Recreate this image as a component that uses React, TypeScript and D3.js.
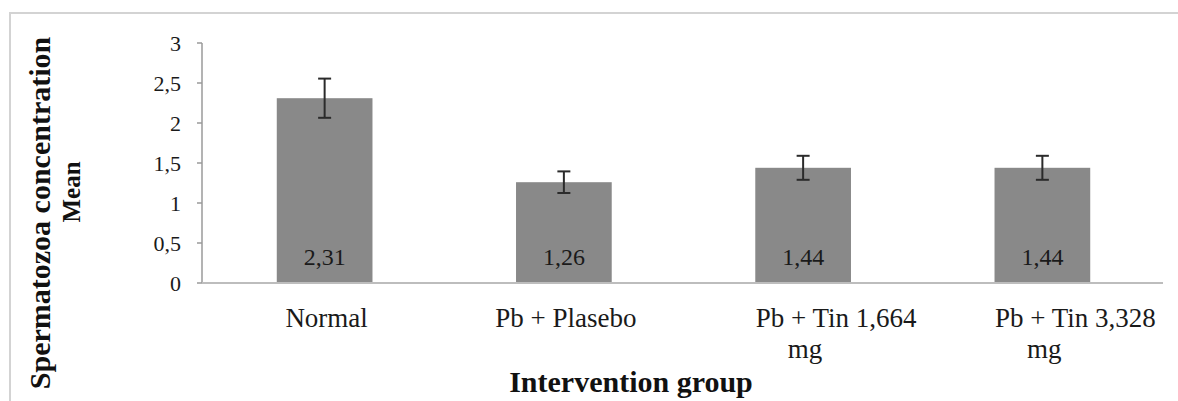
import React from "react";
import * as d3 from "d3";

const categories = ["Normal", "Pb + Plasebo", "Pb + Tin 1,664 mg", "Pb + Tin 3,328 mg"];
const categoryLines = [["Normal"], ["Pb + Plasebo"], ["Pb + Tin 1,664", "mg"], ["Pb + Tin 3,328", "mg"]];
const means = [2.31, 1.26, 1.44, 1.44];
const errors = [0.245, 0.135, 0.15, 0.15];
const yTicks = [0, 0.5, 1, 1.5, 2, 2.5, 3];
const yTitleLines = ["Spermatozoa concentration", "Mean"];
const xTitle = "Intervention group";

const W = 1178;
const H = 401;
const serif = { fontFamily: "'Liberation Serif', 'Times New Roman', serif" };

const fmt = (v: number) => String(v).replace(".", ",");

export default function App() {
  const x = d3
    .scaleBand<string>()
    .domain(categories)
    .range([205, 1162])
    .paddingInner(0.6)
    .paddingOuter(0.3);
  const y = d3.scaleLinear().domain([0, 3]).range([283, 43]);
  const axisLeft = 202;
  const axisRight = 1163;

  return (
    <svg
      width={W}
      height={H}
      style={{ position: "absolute", left: 0, top: 0, background: "#fff" }}
    >
      <rect x={10} y={13} width={1200} height={420} fill="none" stroke="#d3d3d3" strokeWidth={2} />

      <line x1={axisLeft} x2={axisLeft} y1={y(3)} y2={y(0)} stroke="#9a9a9a" strokeWidth={1.5} />
      {yTicks.map((t) => (
        <g key={t}>
          <line x1={axisLeft - 5} x2={axisLeft} y1={y(t)} y2={y(t)} stroke="#9a9a9a" strokeWidth={1.5} />
          <text
            x={181}
            y={y(t)}
            dy="0.36em"
            textAnchor="end"
            style={serif}
            fontSize={22}
            fill="#1a1a1a"
          >
            {fmt(t)}
          </text>
        </g>
      ))}

      {categories.map((c, i) => {
        const bx = x(c)!;
        const bw = x.bandwidth();
        const cx = bx + bw / 2;
        const top = y(means[i] + errors[i]);
        const bot = y(means[i] - errors[i]);
        return (
          <g key={c}>
            <rect x={bx} y={y(means[i])} width={bw} height={y(0) - y(means[i])} fill="#898989" />
            <line x1={cx} x2={cx} y1={top} y2={bot} stroke="#2b2b2b" strokeWidth={2} />
            <line x1={cx - 6.5} x2={cx + 6.5} y1={top} y2={top} stroke="#2b2b2b" strokeWidth={2} />
            <line x1={cx - 6.5} x2={cx + 6.5} y1={bot} y2={bot} stroke="#2b2b2b" strokeWidth={2} />
            <text
              x={cx}
              y={265}
              textAnchor="middle"
              style={serif}
              fontSize={24}
              fill="#1a1a1a"
            >
              {fmt(means[i])}
            </text>
          </g>
        );
      })}

      <line x1={axisLeft} x2={axisRight} y1={y(0)} y2={y(0)} stroke="#bdbdbd" strokeWidth={2} />

      {categories.map((c, i) => {
        const cx = x(c)! + x.bandwidth() / 2;
        const lines = categoryLines[i];
        return (
          <g key={"lab" + c}>
            {lines.map((ln, j) => (
              <text
                key={j}
                x={cx + (lines.length > 1 && j === 0 ? 33 : 2)}
                y={327 + j * 31}
                textAnchor="middle"
                style={serif}
                fontSize={27}
                fill="#1a1a1a"
              >
                {ln}
              </text>
            ))}
          </g>
        );
      })}

      <text
        x={631}
        y={392}
        textAnchor="middle"
        style={serif}
        fontSize={30}
        fontWeight="bold"
        fill="#111"
      >
        {xTitle}
      </text>

      <text
        transform="translate(50,213) rotate(-90)"
        textAnchor="middle"
        style={serif}
        fontSize={30}
        fontWeight="bold"
        fill="#111"
      >
        {yTitleLines[0]}
      </text>
      <text
        transform="translate(80,192) rotate(-90)"
        textAnchor="middle"
        style={serif}
        fontSize={25}
        fontWeight="bold"
        fill="#111"
      >
        {yTitleLines[1]}
      </text>
    </svg>
  );
}
